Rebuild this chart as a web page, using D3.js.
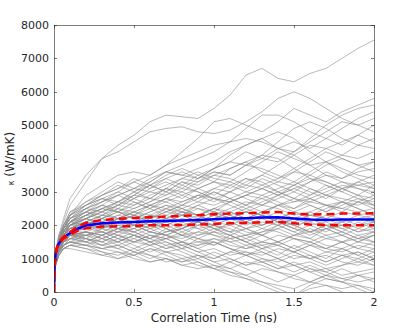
<!DOCTYPE html>
<html>
<head>
<meta charset="utf-8">
<script src="https://cdn.jsdelivr.net/npm/d3@7"></script>
<style>
body { margin: 0; background: #fff; }
text { font-family: "DejaVu Sans", sans-serif; fill: #262626; }
</style>
</head>
<body>
<div id="chart"></div>
<script>
// time samples (ns) shared by every run
var runTimes = [0, 0.01, 0.03, 0.06, 0.1, 0.2, 0.3, 0.4, 0.5, 0.6, 0.7, 0.8, 0.9, 1.0,
                1.1, 1.2, 1.3, 1.4, 1.5, 1.6, 1.7, 1.8, 1.9, 2.0];

// kappa (W/mK) of each individual run
var runs = [
    [0,1100,1600,2100,2600,3300,4000,4400,4700,5100,5300,5250,5200,5500,5900,6500,6700,6400,6300,6550,6700,7000,7300,7550],
    [0,1200,1700,2200,2800,3500,4000,4200,4500,4800,4900,4950,4800,4750,4850,5100,5400,5800,6000,5800,5500,5200,5000,4800],
    [0,1100,1500,1900,2300,2900,3200,3500,3600,3500,3800,4200,4600,5100,5200,5000,4800,5100,5500,5300,5100,5400,5600,5800],
    [0,1000,1400,1800,2100,2500,2800,2700,3000,3300,3600,3800,4000,4200,4500,4900,5300,5300,5100,4800,4600,4900,5200,5400],
    [0,1100,1600,2000,2400,2600,2900,3100,3300,3100,3400,3600,3400,3700,4100,4400,4600,4300,4200,4500,4800,5100,5000,5200],
    [0,1000,1500,1900,2200,2400,2600,2500,2800,3000,2900,3200,3500,3700,3900,3800,4100,4500,4900,5100,4900,4600,4400,4300],
    [0,1200,1700,2000,2300,2700,3000,3300,3100,3300,3600,3500,3400,3600,3500,3800,4000,3900,4200,4600,5000,5300,5500,5600],
    [0,1100,1500,1800,2000,2300,2500,2700,2900,3200,3000,2800,3100,3300,3700,3900,3600,3400,3700,4000,4300,4500,4700,5000],
    [0,1000,1400,1700,2000,2200,2400,2600,2500,2700,3000,3300,3200,3500,3400,3200,3500,3800,4100,4400,4300,4100,4400,4600],
    [0,1100,1500,1900,2100,2400,2300,2600,2900,2800,3100,3400,3600,3400,3300,3600,3900,4200,4000,3800,3900,4100,4000,4200],
    [0,1000,1500,1800,2100,2000,2300,2500,2400,2600,2800,2700,2900,3100,3000,3300,3500,3300,3600,3900,4200,4000,3800,3900],
    [0,1000,1400,1700,1900,2100,2300,2200,2400,2600,2500,2700,2900,2800,3000,3200,3100,2900,3100,3300,3500,3400,3600,3700],
    [0,1100,1500,1800,2000,2200,2100,2300,2500,2700,2900,3100,3000,2800,2700,2900,3100,3300,3200,3400,3300,3100,3300,3500],
    [0,900,1300,1600,1800,2000,2200,2400,2300,2100,2300,2500,2700,2600,2800,3000,2900,3100,3300,3100,2900,3100,3200,3300],
    [0,1000,1400,1700,2000,2300,2500,2400,2200,2400,2600,2500,2300,2500,2700,2900,3100,2900,2700,2800,3000,3200,3100,3000],
    [0,1100,1500,1800,2000,2200,2400,2600,2800,2600,2400,2600,2800,3000,2800,2600,2800,3000,2800,2700,2900,2800,2700,2900],
    [0,1000,1300,1600,1800,2000,1900,2100,2300,2200,2400,2600,2500,2300,2500,2700,2600,2800,3000,2800,2600,2700,2900,2800],
    [0,1000,1400,1700,1900,2100,2000,1900,2100,2300,2200,2400,2300,2500,2400,2200,2400,2600,2500,2700,2600,2500,2700,2600],
    [0,900,1300,1600,1900,2000,2200,2100,2000,2200,2400,2300,2100,2300,2200,2400,2600,2500,2300,2400,2600,2500,2400,2500],
    [0,1000,1400,1700,1900,1900,2100,2300,2200,2000,2100,2300,2500,2400,2200,2100,2300,2200,2400,2300,2200,2400,2300,2400],
    [0,1100,1500,1800,2100,2200,2000,2100,2300,2500,2300,2100,2200,2400,2300,2100,2000,2200,2100,2300,2200,2100,2200,2300],
    [0,1000,1400,1600,1800,2000,2100,2000,1800,2000,2200,2100,1900,2000,2200,2400,2300,2100,2000,2100,2300,2200,2000,2200],
    [0,900,1300,1600,1800,1900,1800,2000,2100,1900,2000,2200,2100,2300,2100,1900,2100,2000,1800,2000,2100,1900,2000,2100],
    [0,1000,1300,1500,1700,1800,2000,1900,2100,2000,1800,1900,2100,2000,1800,1900,2000,2200,2000,1800,1900,2000,1800,1900],
    [0,1000,1400,1700,1900,2000,1900,1800,1900,2100,1900,1700,1800,2000,1900,1700,1800,1900,1700,1800,2000,1900,1700,1800],
    [0,900,1300,1500,1700,1800,1700,1900,1800,1600,1800,1900,1700,1800,1600,1700,1900,1800,1600,1500,1700,1800,1600,1700],
    [0,1000,1300,1600,1700,1700,1600,1800,1700,1500,1600,1700,1500,1400,1600,1700,1500,1400,1600,1500,1300,1500,1600,1500],
    [0,900,1200,1500,1600,1700,1800,1600,1500,1700,1600,1400,1500,1600,1400,1300,1500,1400,1200,1400,1300,1200,1400,1300],
    [0,900,1200,1400,1600,1600,1500,1700,1600,1400,1500,1300,1400,1500,1300,1200,1100,1300,1200,1000,1200,1100,1000,1200],
    [0,1000,1300,1500,1700,1600,1400,1500,1700,1500,1300,1400,1200,1300,1100,1200,1000,900,1100,1000,1100,900,800,1000],
    [0,900,1200,1400,1500,1500,1400,1300,1500,1400,1200,1300,1100,1000,1200,1100,900,1000,800,900,700,800,900,800],
    [0,800,1100,1300,1400,1400,1300,1200,1100,1300,1200,1000,1100,900,1000,800,900,700,800,600,700,500,600,700],
    [0,900,1200,1300,1400,1300,1200,1100,1300,1100,1000,900,1000,800,700,900,800,600,500,700,600,400,500,600],
    [0,800,1100,1300,1300,1200,1100,1000,1100,900,1000,800,700,800,600,500,700,600,400,300,500,400,300,400],
    [0,900,1200,1400,1500,1400,1300,1400,1200,1100,900,1000,800,700,600,400,300,200,100,300,200,100,200,100],
    [0,800,1100,1300,1400,1300,1100,1200,1000,900,1000,800,900,700,500,400,200,0,-100,100,200,0,-100,0],
    [0,1100,1600,2000,2300,2600,2800,3000,3300,3500,3800,4000,4200,4400,4500,4600,4500,4300,4100,3800,3500,3300,3100,2900],
    [0,1000,1500,1900,2200,2500,2700,2900,3100,3400,3600,3500,3700,3900,4200,4400,4600,4800,4600,4200,3900,3600,3400,3200],
    [0,1100,1500,1900,2200,2400,2600,2900,3100,3000,3200,3400,3300,3500,3700,3900,4100,4000,3700,3400,3200,3000,2800,2700],
    [0,1000,1400,1800,2100,2300,2500,2400,2600,2800,2700,2900,3100,3300,3200,3000,3200,3400,3600,3500,3300,3100,2900,2600],
    [0,1000,1400,1700,2000,2100,2300,2200,2400,2300,2500,2400,2600,2800,2700,2900,2800,2600,2700,2900,3100,3300,3200,3100],
    [0,900,1300,1600,1800,1900,2000,2200,2100,2300,2200,2000,2100,1900,2000,1800,1700,1900,2100,2300,2500,2700,2600,2800],
    [0,1000,1300,1600,1800,1800,1700,1900,2000,1800,1700,1600,1800,1700,1500,1600,1800,2000,2200,2100,1900,2000,2200,2100],
    [0,900,1200,1500,1700,1800,1600,1500,1700,1600,1400,1500,1700,1900,1800,1600,1400,1500,1700,1600,1400,1300,1500,1400],
    [0,1000,1400,1700,1900,2100,2000,2200,2000,1800,1700,1500,1400,1600,1500,1300,1400,1200,1000,1100,900,1100,1200,1000],
    [0,1100,1500,1800,2100,2300,2200,2000,1900,2100,1900,1700,1600,1800,1700,1500,1300,1400,1200,1400,1600,1500,1300,1200],
    [0,900,1200,1400,1600,1500,1300,1400,1600,1800,1700,1900,2100,2000,2200,2400,2300,2100,1900,1800,1600,1700,1900,1800],
    [0,1000,1300,1500,1700,1700,1800,1700,1500,1600,1800,2000,1900,1700,1600,1400,1500,1700,1600,1400,1200,1300,1100,900],
    [0,800,1100,1300,1400,1600,1500,1700,1900,1700,1600,1800,1600,1500,1300,1100,1200,1000,800,600,400,300,200,0],
    [0,900,1200,1500,1600,1500,1700,1900,1800,2000,2200,2400,2300,2100,2000,2200,2400,2600,2400,2200,2000,2100,2300,2200],
    [0,1000,1400,1700,2000,2200,2500,2700,2600,2900,3100,3000,3300,3600,3500,3800,3700,3500,3300,3600,3900,3700,3500,3400],
    [0,1100,1500,1900,2300,2500,2400,2700,3000,3200,3000,3300,3100,2900,3200,3400,3300,3000,3200,3500,3800,4000,3800,3600],
    [0,900,1300,1600,1800,2100,1900,2200,2400,2200,2500,2300,2600,2400,2700,2500,2300,2600,2800,2600,2400,2700,2500,2300],
    [0,1000,1300,1600,1800,1700,1900,2200,2000,2300,2100,1900,2200,2000,1800,2100,2300,2100,1900,2200,2000,1800,2100,1900],
    [0,1000,1400,1600,1900,2000,1800,1600,1800,1600,1900,1700,2000,1800,2100,1900,1700,2000,1800,1600,1900,1700,1500,1700],
    [0,900,1200,1500,1700,1600,1900,1700,1500,1700,1500,1300,1600,1400,1700,1500,1300,1100,1400,1200,1000,1300,1100,1300],
    [0,1000,1300,1600,1800,1600,1400,1600,1400,1200,1400,1200,1000,1200,1000,800,1000,800,600,800,600,800,1000,800],
    [0,900,1200,1400,1500,1700,1500,1300,1100,1300,1100,900,1100,900,700,500,300,100,-100,200,400,300,500,400],
    [0,1000,1300,1500,1700,1500,1700,1500,1300,1500,1700,1500,1300,1100,900,1100,900,700,900,700,500,300,100,-100],
    [0,1100,1500,1800,2100,2400,2200,2500,2300,2600,2800,2600,2900,2700,3000,2800,2600,2900,3200,3000,2800,3100,2900,3200],
    [0,1000,1400,1800,2100,2300,2600,2400,2700,2500,2800,3000,2800,3100,3300,3100,3400,3200,3000,3300,3600,3400,3700,3900],
    [0,1100,1600,2000,2400,2700,2900,3200,3000,2800,3100,2900,2700,3000,2800,2600,2900,2700,2500,2800,2600,2400,2700,2500],
    [0,900,1300,1700,2000,2200,2000,1800,2100,1900,2100,2300,2100,1900,1700,1900,1700,1500,1700,1900,1700,1500,1300,1500],
    [0,1000,1400,1700,1900,2200,2400,2200,2000,2200,2000,1800,2000,2200,2400,2600,2400,2200,2000,1800,2000,1800,1600,1800],
    [0,1000,1300,1500,1600,1800,1600,1800,2000,1800,2000,2200,2000,2200,2400,2200,2000,2200,2400,2600,2400,2600,2800,2600],
    [0,800,1100,1400,1500,1400,1600,1400,1200,1400,1600,1400,1200,1000,1200,1400,1200,1000,1200,1000,800,1000,1200,1000],
    [0,900,1200,1400,1500,1400,1200,1000,1200,1000,1200,1100,900,700,900,700,500,300,500,300,500,700,500,300],
    [0,1100,1500,1900,2200,2600,2900,3100,3400,3200,3500,3700,3500,3300,3100,3400,3200,3000,2800,3100,2900,2700,2500,2300],
    [0,1000,1500,1900,2300,2600,2800,2600,2900,3200,3400,3200,3000,2800,2600,2400,2200,2400,2200,2000,1800,2100,1900,2100],
    [0,1000,1400,1700,1900,2100,1900,2100,2300,2100,1900,2100,2300,2500,2300,2500,2700,2900,3100,2900,3200,3000,3300,3100],
    [0,900,1300,1600,1800,1900,2100,1900,1700,1900,1700,1900,2100,1900,1700,1500,1700,1500,1300,1500,1300,1500,1700,1500],
    [0,1000,1400,1700,2000,2000,2200,2400,2200,2400,2600,2400,2200,2400,2200,2000,2200,2000,2200,2400,2200,2000,1800,2000],
    [0,1100,1500,1900,2200,2500,2700,2900,2700,2500,2700,2500,2300,2100,2300,2100,1900,2100,1900,1700,1900,1700,1500,1700],
    [0,900,1200,1500,1700,1800,1700,1500,1700,1500,1300,1500,1300,1500,1300,1100,1300,1500,1300,1100,900,1100,900,1100],
    [0,1000,1400,1800,2100,2400,2700,3000,2800,3100,3300,3100,3400,3700,3900,4200,4000,4300,4500,4300,4600,4400,4700,4500]
];

// mean and confidence band
var meanTimes  = [0, 0.002, 0.005, 0.01, 0.02, 0.03, 0.05, 0.08, 0.1, 0.15, 0.2, 0.3, 0.4, 0.5, 0.6,
                  0.7, 0.8, 0.9, 1.0, 1.1, 1.2, 1.3, 1.4, 1.5, 1.6, 1.7, 1.8, 1.9, 2.0];
var meanKappa  = [0, 600, 900, 1150, 1350, 1450, 1580, 1700, 1760, 1900, 1990, 2060, 2080, 2100, 2120,
                  2130, 2140, 2160, 2180, 2200, 2210, 2230, 2240, 2200, 2170, 2160, 2170, 2170, 2170];
var upperKappa = [0, 605, 908, 1160, 1365, 1470, 1605, 1735, 1800, 1960, 2070, 2160, 2190, 2220, 2240,
                  2260, 2280, 2300, 2330, 2350, 2360, 2380, 2400, 2350, 2320, 2330, 2350, 2350, 2360];
var lowerKappa = [0, 595, 892, 1140, 1335, 1430, 1555, 1665, 1720, 1840, 1910, 1960, 1970, 1980, 2000,
                  2000, 2010, 2020, 2040, 2060, 2070, 2090, 2100, 2060, 2020, 2010, 2000, 2000, 2000];

var xTicks = [0, 0.5, 1, 1.5, 2];
var yTicks = [0, 1000, 2000, 3000, 4000, 5000, 6000, 7000, 8000];

var width = 415, height = 328;
var plotLeft = 54, plotRight = 374, plotTop = 25, plotBottom = 292;
var tickLen = 3;

var svg = d3.select("#chart").append("svg")
    .attr("width", width)
    .attr("height", height);

var x = d3.scaleLinear().domain([0, 2]).range([plotLeft, plotRight]);
var y = d3.scaleLinear().domain([0, 8000]).range([plotBottom, plotTop]);

svg.append("clipPath").attr("id", "plotClip")
    .append("rect")
    .attr("x", plotLeft).attr("y", plotTop)
    .attr("width", plotRight - plotLeft).attr("height", plotBottom - plotTop);

var plot = svg.append("g").attr("clip-path", "url(#plotClip)");

var runLine = d3.line()
    .x(function(d, i){ return x(runTimes[i]); })
    .y(function(d){ return y(d); });

plot.selectAll("path.run").data(runs).enter().append("path")
    .attr("class", "run")
    .attr("d", runLine)
    .attr("fill", "none")
    .attr("stroke", "#8c8c8c")
    .attr("stroke-width", 0.6);

var bandLine = d3.line()
    .x(function(d, i){ return x(meanTimes[i]); })
    .y(function(d){ return y(d); });

plot.append("path")
    .attr("d", bandLine(meanKappa))
    .attr("fill", "none")
    .attr("stroke", "#0000ff")
    .attr("stroke-width", 2.5);

[upperKappa, lowerKappa].forEach(function(vals){
    plot.append("path")
        .attr("d", bandLine(vals))
        .attr("fill", "none")
        .attr("stroke", "#ff0000")
        .attr("stroke-width", 2.5)
        .attr("stroke-dasharray", "8,5");
});

// box
var axisColor = "#262626";
svg.append("rect")
    .attr("x", plotLeft + 0.5).attr("y", plotTop + 0.5)
    .attr("width", plotRight - plotLeft).attr("height", plotBottom - plotTop)
    .attr("fill", "none")
    .attr("stroke", axisColor)
    .attr("stroke-width", 0.6);

// y ticks, inward on both sides
yTicks.forEach(function(v){
    var py = Math.round(y(v)) + 0.5;
    svg.append("line").attr("x1", plotLeft).attr("x2", plotLeft + tickLen)
        .attr("y1", py).attr("y2", py).attr("stroke", axisColor).attr("stroke-width", 0.6);
    svg.append("line").attr("x1", plotRight - tickLen).attr("x2", plotRight)
        .attr("y1", py).attr("y2", py).attr("stroke", axisColor).attr("stroke-width", 0.6);
    svg.append("text")
        .attr("x", plotLeft - 5)
        .attr("y", y(v) + 4)
        .attr("text-anchor", "end")
        .attr("font-size", 11)
        .text(v);
});

xTicks.forEach(function(v){
    var px = Math.round(x(v)) + 0.5;
    svg.append("line").attr("x1", px).attr("x2", px)
        .attr("y1", plotBottom - tickLen).attr("y2", plotBottom).attr("stroke", axisColor).attr("stroke-width", 0.6);
    svg.append("line").attr("x1", px).attr("x2", px)
        .attr("y1", plotTop).attr("y2", plotTop + tickLen).attr("stroke", axisColor).attr("stroke-width", 0.6);
    svg.append("text")
        .attr("x", x(v))
        .attr("y", plotBottom + 14)
        .attr("text-anchor", "middle")
        .attr("font-size", 11)
        .text(v);
});

svg.append("text")
    .attr("x", (plotLeft + plotRight) / 2)
    .attr("y", 322)
    .attr("text-anchor", "middle")
    .attr("font-size", 12)
    .text("Correlation Time (ns)");

var yLabel = svg.append("text")
    .attr("transform", "translate(14," + ((plotTop + plotBottom) / 2) + ") rotate(-90)")
    .attr("text-anchor", "middle")
    .attr("font-size", 12);
yLabel.append("tspan").attr("font-size", 8).text("κ");
yLabel.append("tspan").text(" (W/mK)");
</script>
</body>
</html>
